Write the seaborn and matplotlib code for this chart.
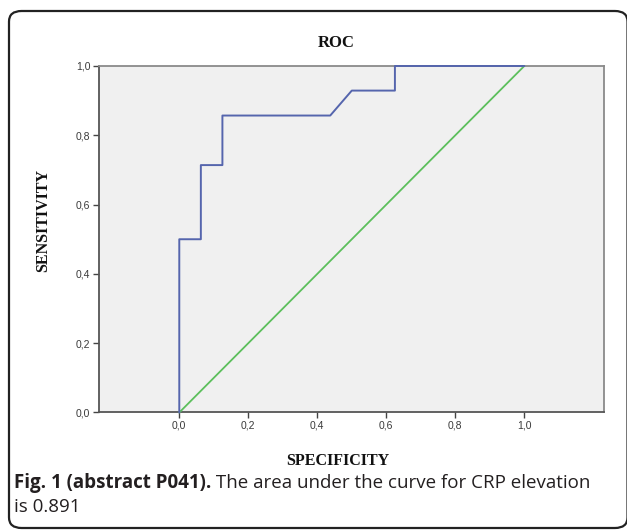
import matplotlib
matplotlib.use('Agg')
import matplotlib.pyplot as plt
import seaborn as sns
import pandas as pd
from matplotlib.patches import FancyBboxPatch
from matplotlib.ticker import FuncFormatter

# ROC curve points (1 - specificity, sensitivity)
fpr = [0.0, 0.0, 0.0625, 0.0625, 0.125, 0.125, 0.4375, 0.5, 0.625, 0.625, 1.0]
tpr = [0.0, 0.5, 0.5, 0.714, 0.714, 0.857, 0.857, 0.929, 0.929, 1.0, 1.0]
ref_x = [0.0, 1.0]
ref_y = [0.0, 1.0]
tick_vals = [0.0, 0.2, 0.4, 0.6, 0.8, 1.0]

sns.set_theme(style='white')
plt.rcParams['font.family'] = ['Liberation Sans', 'DejaVu Sans']

fig = plt.figure(figsize=(6.27, 5.30), dpi=100)
ax = fig.add_axes([0.1574, 0.2217, 0.8059, 0.6538])
ax.set_facecolor('#f0f0f0')

roc = pd.DataFrame({'fpr': fpr, 'tpr': tpr})
ref = pd.DataFrame({'x': ref_x, 'y': ref_y})
sns.lineplot(data=ref, x='x', y='y', estimator=None, sort=False,
             color='#5cbf5c', linewidth=1.3, ax=ax, zorder=3, clip_on=False)
sns.lineplot(data=roc, x='fpr', y='tpr', estimator=None, sort=False,
             color='#5565ad', linewidth=1.4, ax=ax, zorder=4, clip_on=False)

ax.set_xlim(-0.2336, 1.231)
ax.set_ylim(0, 1)
ax.set_xticks(tick_vals)
ax.set_yticks(tick_vals)
fmt = FuncFormatter(lambda v, p: f'{v:.1f}'.replace('.', ','))
ax.xaxis.set_major_formatter(fmt)
ax.yaxis.set_major_formatter(fmt)
ax.tick_params(axis='both', direction='out', length=4, width=1, color='#444444',
               labelsize=7.5, labelcolor='#3a3a3a', pad=2,
               bottom=True, left=True)
ax.set_xlabel('')
ax.set_ylabel('')

for side in ['left', 'bottom']:
    ax.spines[side].set_color('#555555')
    ax.spines[side].set_linewidth(1.3)
    ax.spines[side].set_zorder(2)
for side in ['top', 'right']:
    ax.spines[side].set_color('#8a8a8a')
    ax.spines[side].set_linewidth(1.3)
    ax.spines[side].set_zorder(2)

serif = ['Liberation Serif', 'DejaVu Serif']
fig.text(336 / 627, 1 - 43 / 530, 'ROC', family=serif, fontweight='bold',
         fontsize=12, ha='center', va='center', color='#111111')
fig.text(338 / 627, 1 - 461 / 530, 'SPECIFICITY', family=serif, fontweight='bold',
         fontsize=11.5, ha='center', va='center', color='#111111')
fig.text(43 / 627, 1 - 220 / 530, 'SENSITIVITY', family=serif, fontweight='bold',
         fontsize=11.5, ha='center', va='center', rotation=90, color='#111111')

# rounded frame around the figure
frame = FancyBboxPatch((9 / 627, 2 / 530), (627.5 - 9) / 627, (519 - 2) / 530,
                       boxstyle='round,pad=0,rounding_size=0.02',
                       transform=fig.transFigure, fill=False,
                       edgecolor='#222222', linewidth=1.6, clip_on=False)
fig.patches.append(frame)

# caption
sans = ['Open Sans', 'DejaVu Sans']
cap_y1 = 1 - 483 / 530
cap_y2 = 1 - 507 / 530
t1 = fig.text(14 / 627, cap_y1, 'Fig. 1 (abstract P041).', family=sans,
              fontweight='bold', fontsize=13.5, ha='left', va='center', color='#231f20')
fig.canvas.draw()
bb = t1.get_window_extent(renderer=fig.canvas.get_renderer())
x_end = bb.x1 / fig.bbox.width
fig.text(x_end, cap_y1, ' The area under the curve for CRP elevation', family=sans,
         fontsize=13.5, ha='left', va='center', color='#231f20')
fig.text(14 / 627, cap_y2, 'is 0.891', family=sans,
         fontsize=13.5, ha='left', va='center', color='#231f20')

fig.savefig('out.png', dpi=100)
